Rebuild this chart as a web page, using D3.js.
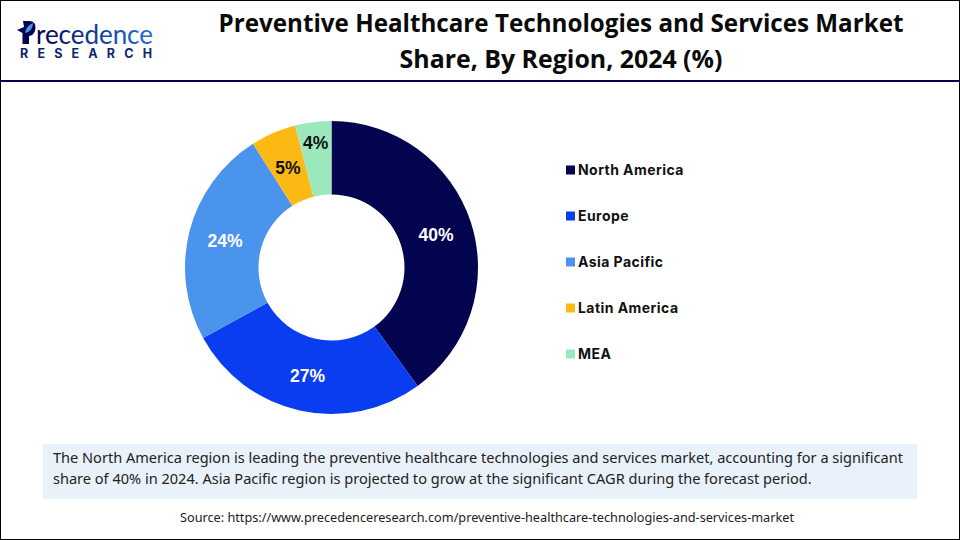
<!DOCTYPE html>
<html>
<head>
<meta charset="utf-8">
<script src="https://cdn.jsdelivr.net/npm/d3@7"></script>
<style>
html, body { margin: 0; padding: 0; background: #fff; overflow: hidden; }
text { font-family: Inter, "Noto Sans", sans-serif; }
</style>
</head>
<body>
<svg id="chart" width="960" height="540"></svg>
<script>
const regions = ["North America", "Europe", "Asia Pacific", "Latin America", "MEA"];
const shares = [40, 27, 24, 5, 4];
const colors = ["#03044f", "#0a3cf0", "#4a94ee", "#fdb913", "#9be8bd"];
const labelColors = ["#fff", "#fff", "#fff", "#111", "#111"];
const titleLines = ["Preventive Healthcare Technologies and Services Market", "Share, By Region, 2024 (%)"];
const noteLines = [
    "The North America region is leading the preventive healthcare technologies and services market, accounting for a significant",
    "share of 40% in 2024. Asia Pacific region is projected to grow at the significant CAGR during the forecast period."
];
const source = "Source: https://www.precedenceresearch.com/preventive-healthcare-technologies-and-services-market";

const svg = d3.select("#chart");

// frame and header rule
svg.append("rect").attr("x", 0.5).attr("y", 0.5).attr("width", 959).attr("height", 539)
    .attr("fill", "none").attr("stroke", "#000").attr("stroke-width", 1);
svg.append("rect").attr("x", 1).attr("y", 80).attr("width", 958).attr("height", 2).attr("fill", "#03044f");

// logo
const grad = svg.append("defs").append("linearGradient").attr("id", "logoFill");
grad.append("stop").attr("offset", "0%").attr("stop-color", "#03044f");
grad.append("stop").attr("offset", "100%").attr("stop-color", "#1f6fe0");
const logo = svg.append("g");
logo.append("path").attr("d", "M23 21 L30 21 Q36 22 35.5 28 Q35 35 29 36 L29 44 L22.5 44 L22.5 33 L17 30 L24 27 Z").attr("fill", "#03044f");
logo.append("path").attr("d", "M25 33 Q26 26 33 23 Q33 31 25 33 Z").attr("fill", "#4a94ee");
logo.append("text").attr("x", 36).attr("y", 44).text("recedence")
    .attr("font-size", 26).attr("fill", "url(#logoFill)")
    .style("font-family", "Lato, sans-serif").attr("textLength", 117);
logo.append("text").attr("x", 20).attr("y", 58).text("RESEARCH")
    .attr("font-size", 12.5).attr("font-weight", 700).attr("fill", "#12236e")
    .attr("textLength", 132);

// title
svg.append("g").selectAll("text").data(titleLines).enter().append("text")
    .attr("x", 561)
    .attr("y", (d, i) => 32 + i * 36)
    .attr("text-anchor", "middle")
    .attr("font-size", (d, i) => i ? 24.9 : 24.2)
    .attr("font-weight", 700)
    .attr("fill", "#0a0a0a")
    .style("font-family", "'Open Sans', sans-serif")
    .text(d => d);

// donut
const cx = 331.5, cy = 267.5;
const labelRadius = [110, 110, 110, 110, 127];
const pie = d3.pie().sort(null).value(d => d);
const arc = d3.arc().innerRadius(73).outerRadius(146.5);
const arcs = pie(shares);
const donut = svg.append("g").attr("transform", `translate(${cx},${cy})`);
donut.selectAll("path").data(arcs).enter().append("path")
    .attr("d", arc)
    .attr("fill", (d, i) => colors[i]);
donut.selectAll("text").data(arcs).enter().append("text")
    .attr("transform", (d, i) => {
        const a = (d.startAngle + d.endAngle) / 2;
        return `translate(${d3.pointRadial(a, labelRadius[i])})`;
    })
    .attr("text-anchor", "middle")
    .attr("dy", "0.4em")
    .attr("font-size", 17.5)
    .attr("font-weight", 700)
    .attr("fill", (d, i) => labelColors[i])
    .style("font-family", "'Liberation Sans', sans-serif")
    .text(d => d.value + "%");

// legend
const legendY = d3.scalePoint().domain(regions).range([170, 354]);
const legend = svg.append("g").selectAll("g").data(regions).enter().append("g")
    .attr("transform", d => `translate(566,${legendY(d)})`);
legend.append("rect").attr("x", 0).attr("y", -4.5).attr("width", 9).attr("height", 9)
    .attr("fill", (d, i) => colors[i]);
legend.append("text").attr("x", 12).attr("dy", "0.36em")
    .attr("font-size", 14).attr("font-weight", 700).attr("fill", "#111")
    .attr("letter-spacing", 0.45)
    .text(d => d);

// note box
svg.append("rect").attr("x", 43).attr("y", 444).attr("width", 874).attr("height", 55).attr("fill", "#e9f1fa");
svg.append("g").selectAll("text").data(noteLines).enter().append("text")
    .attr("x", 53)
    .attr("y", (d, i) => 463 + i * 21)
    .attr("font-size", 14.55)
    .attr("fill", "#222")
    .style("font-family", "'Noto Sans', sans-serif")
    .text(d => d);

// source
svg.append("text").attr("x", 487).attr("y", 522).attr("text-anchor", "middle")
    .attr("font-size", 12.7).attr("fill", "#222")
    .style("font-family", "'Noto Sans', sans-serif")
    .text(source);
</script>
</body>
</html>
